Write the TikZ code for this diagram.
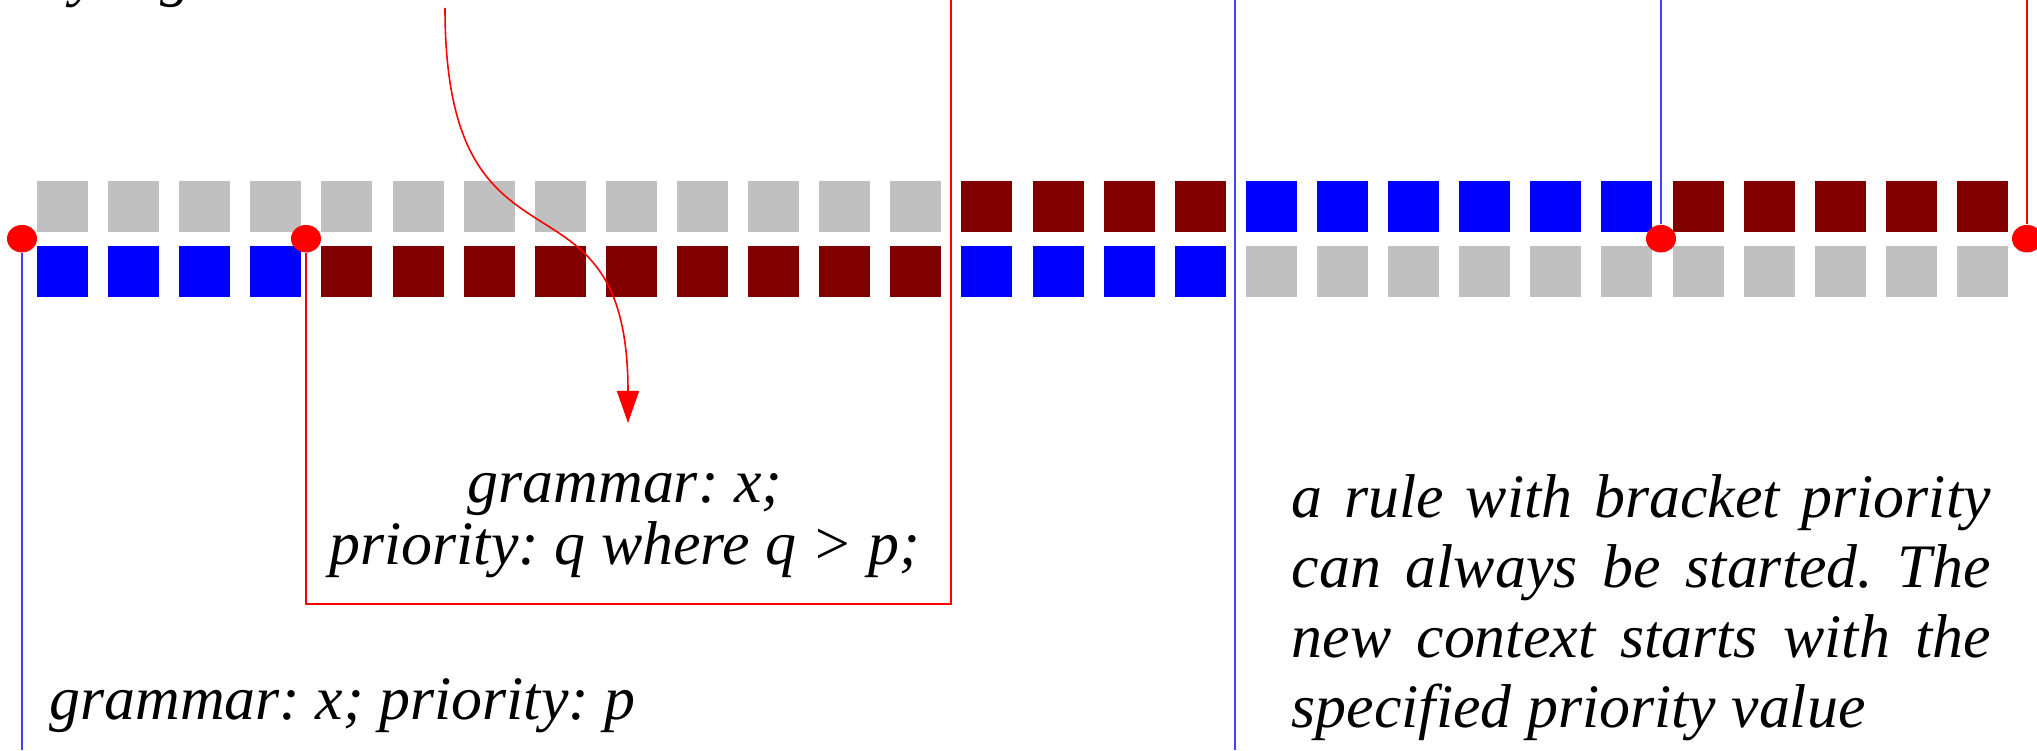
\documentclass[tikz,border=0pt]{standalone}
\usepackage{fontspec}
\setmainfont{Liberation Serif}
\usetikzlibrary{arrows.meta,shapes.geometric,positioning}

\definecolor{cellgray}{HTML}{C0C0C0}
\definecolor{cellred}{HTML}{800000}
\definecolor{cellblue}{HTML}{0000FF}
\frenchspacing

\begin{document}
\begin{tikzpicture}[
    cell/.style={minimum size=0.51cm, inner sep=0pt, outer sep=0pt},
    pin/.style={ellipse, fill=red, minimum width=0.30cm, minimum height=0.275cm, inner sep=0pt},
    bline/.style={blue!75, line width=0.45pt},
    rline/.style={red, line width=0.45pt},
    arr/.style={-{Triangle[length=0.32cm, width=0.22cm]}, red, line width=0.45pt},
    lbl/.style={font=\itshape\fontsize{17.6}{19.9}\selectfont, inner sep=0pt}
]
\useasboundingbox[fill=white] (0,0) rectangle (20.37,7.50);

% the two rows of cells
\foreach \c/\a/\b in {cellgray/0/12, cellred/13/16, cellblue/17/22, cellred/23/27}
  \foreach \i in {\a,...,\b}
    \node[cell, fill=\c] (t\i) at (0.625+0.7111*\i, 5.435) {};
\foreach \c/\a/\b in {cellblue/0/3, cellred/4/12, cellblue/13/16, cellgray/17/27}
  \foreach \i in {\a,...,\b}
    \node[cell, fill=\c] (b\i) at (0.625+0.7111*\i, 4.785) {};

% context starts
\node[pin] (d1) at (0.22,5.113) {};
\node[pin] (d2) at (3.06,5.113) {};
\node[pin] (d3) at (16.61,5.113) {};
\node[pin] (d4) at (20.27,5.113) {};

\coordinate (d1bot) at (0.22,0);
\coordinate (boxbr) at (9.51,1.46);
\coordinate (boxtop) at (9.51,7.50);
\coordinate (midtop) at (12.35,7.50);
\coordinate (midbot) at (12.35,0);
\coordinate (d3top) at (16.61,7.50);
\coordinate (d4top) at (20.27,7.50);
\coordinate (arrfrom) at (4.45,7.42);
\coordinate (arrto) at (6.28,3.27);

\draw[bline] (d1) -- (d1bot);
\draw[rline] (d2) -- (d2 |- boxbr) -- (boxbr) -- (boxtop);
\draw[bline] (midtop) -- (midbot);
\draw[bline] (d3top) -- (d3);
\draw[rline] (d4top) -- (d4);
\draw[arr] (arrfrom) .. controls +(0,-2.92) and +(0,2.73) .. (arrto);

% labels
\node[lbl, anchor=base west] (head) at (0.40,7.55) {by a grammar};
\node[lbl, font=\itshape\fontsize{17.6}{17.6}\selectfont, align=center, anchor=base] (inner) at (6.25,1.86)
  {grammar: x;\\priority: q where q > p;};
\node[lbl, anchor=base west] (outer) at (0.49,0.31) {grammar: x; priority: p};
\node[lbl, anchor=base west, text width=6.99cm, align=justify] (note) at (12.91,2.32)
  {a rule with bracket priority can always be started. The new context starts with the specified priority value};
\end{tikzpicture}
\end{document}
